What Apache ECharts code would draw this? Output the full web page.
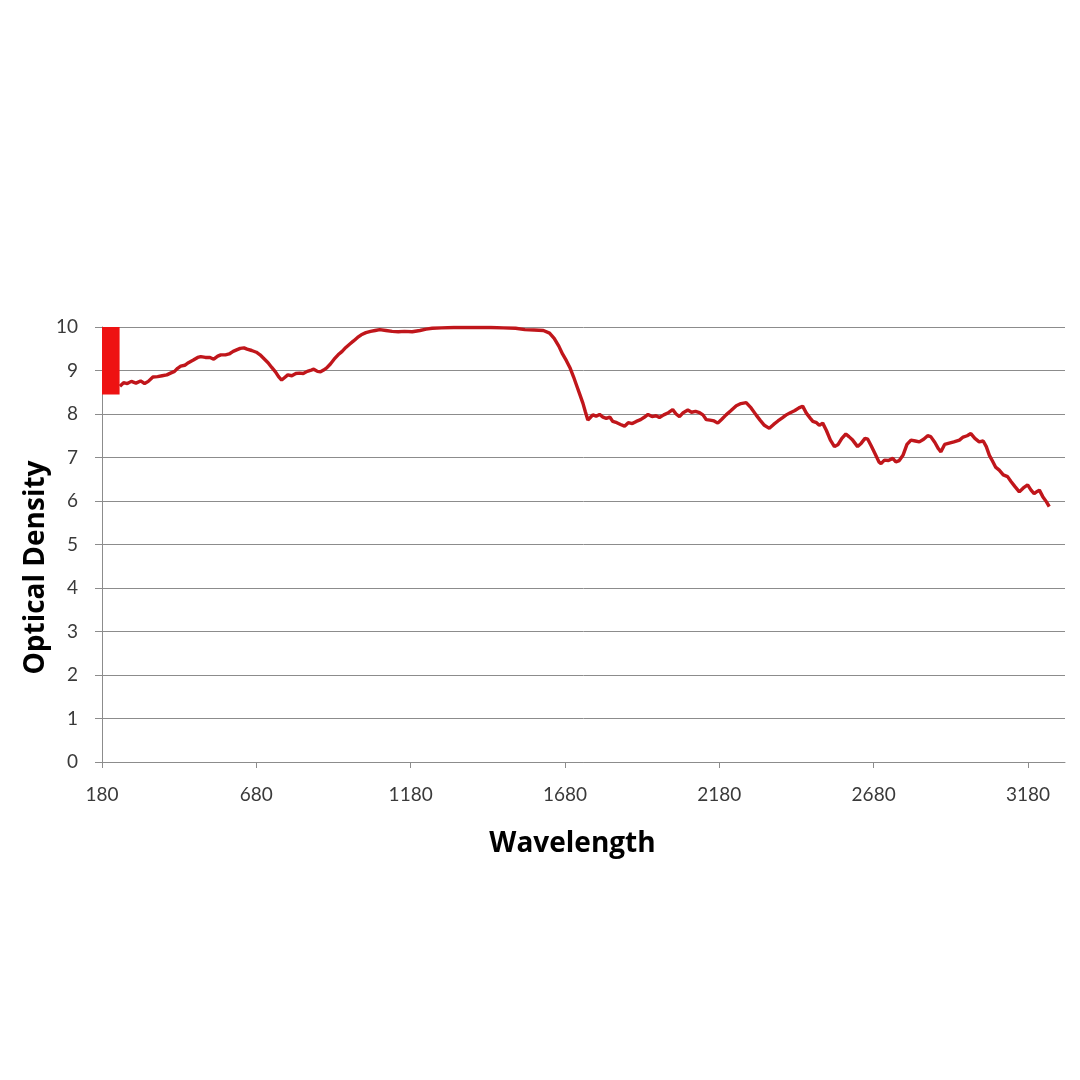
<!DOCTYPE html>
<html><head><meta charset="utf-8">
<script src="https://cdn.jsdelivr.net/npm/echarts@6/dist/echarts.min.js"></script>
<style>html,body{margin:0;padding:0;background:#fff}#c{width:1080px;height:1080px}</style>
</head><body><div id="c"></div>
<script>
const wavelength = [238,250,262,275,290,305,318,330,345,360,375,390,402,415,425,435,448,460,476,490,500,515,530,542,555,565,580,592,605,618,628,640,650,665,680,692,705,718,730,742,752,762,772,782,795,808,820,832,845,858,866,878,888,898,908,920,932,945,958,970,983,995,1008,1020,1035,1050,1065,1080,1100,1120,1140,1160,1185,1210,1230,1250,1280,1320,1360,1400,1440,1480,1520,1550,1580,1610,1630,1645,1660,1672,1685,1697,1708,1718,1728,1738,1746,1754,1762,1770,1781,1792,1803,1814,1825,1835,1848,1860,1873,1885,1898,1911,1925,1938,1949,1962,1975,1986,2000,2015,2029,2040,2051,2063,2078,2090,2103,2116,2127,2138,2150,2163,2175,2188,2202,2218,2235,2250,2267,2283,2299,2312,2326,2342,2356,2370,2384,2397,2410,2425,2438,2450,2462,2475,2483,2495,2504,2515,2527,2540,2553,2565,2577,2590,2600,2612,2628,2640,2652,2661,2672,2685,2697,2704,2715,2728,2742,2752,2763,2775,2788,2801,2815,2828,2842,2855,2865,2878,2890,2898,2910,2925,2940,2958,2970,2983,2995,3008,3022,3035,3045,3055,3065,3075,3087,3100,3114,3125,3138,3152,3165,3179,3190,3200,3210,3217,3228,3240,3249];
const density = [8.64,8.72,8.70,8.75,8.71,8.76,8.70,8.75,8.85,8.86,8.88,8.90,8.94,8.98,9.05,9.10,9.12,9.18,9.24,9.30,9.32,9.30,9.30,9.26,9.33,9.36,9.36,9.38,9.44,9.48,9.51,9.52,9.49,9.46,9.42,9.36,9.27,9.18,9.07,8.97,8.86,8.78,8.84,8.90,8.88,8.93,8.94,8.93,8.98,9.01,9.03,8.98,8.97,9.01,9.06,9.15,9.26,9.36,9.44,9.53,9.61,9.68,9.76,9.82,9.87,9.90,9.92,9.94,9.92,9.90,9.89,9.90,9.89,9.92,9.95,9.97,9.98,9.99,9.99,9.99,9.99,9.98,9.97,9.94,9.93,9.92,9.86,9.74,9.56,9.38,9.22,9.05,8.85,8.65,8.45,8.25,8.05,7.86,7.92,7.98,7.95,7.99,7.93,7.90,7.93,7.83,7.80,7.76,7.72,7.80,7.78,7.83,7.87,7.93,7.99,7.94,7.96,7.92,7.98,8.03,8.10,8.00,7.94,8.03,8.09,8.04,8.06,8.03,7.98,7.87,7.86,7.84,7.79,7.88,7.98,8.08,8.19,8.24,8.26,8.14,7.98,7.86,7.74,7.67,7.76,7.84,7.91,7.98,8.03,8.08,8.14,8.18,8.02,7.90,7.83,7.80,7.74,7.79,7.62,7.40,7.25,7.30,7.44,7.54,7.48,7.40,7.25,7.33,7.44,7.42,7.27,7.08,6.90,6.86,6.94,6.93,6.98,6.90,6.93,7.05,7.30,7.40,7.38,7.36,7.42,7.50,7.48,7.35,7.20,7.13,7.30,7.33,7.36,7.40,7.47,7.50,7.55,7.44,7.36,7.38,7.25,7.05,6.92,6.78,6.71,6.60,6.56,6.45,6.33,6.21,6.30,6.37,6.25,6.17,6.22,6.25,6.10,5.98,5.87];
const xTickLabels = [180,680,1180,1680,2180,2680,3180];
const bandX = [180,237];
const bandY = [8.45,10];

const chart = echarts.init(document.getElementById('c'));
const lblFont = {fontFamily:'Lato', fontSize:19, color:'#3a3a3a'};
chart.setOption({
  animation:false,
  backgroundColor:'#fff',
  grid:{left:102,right:15,top:327,bottom:318,containLabel:false},
  xAxis:{type:'value',min:180,max:3300,
    name:'Wavelength',nameLocation:'middle',nameGap:68,nameMoveOverlap:false,
    nameTextStyle:{fontFamily:'Open Sans',fontWeight:'bold',fontSize:28,color:'#000',padding:[0,22,0,0]},
    axisLine:{lineStyle:{color:'#8c8c8c',width:1}},
    axisTick:{show:true,customValues:xTickLabels,length:6,lineStyle:{color:'#8c8c8c'}},
    axisLabel:Object.assign({customValues:xTickLabels,margin:23,formatter:v=>String(v)},lblFont),
    splitLine:{show:false}},
  yAxis:{type:'value',min:0,max:10,interval:1,
    name:'Optical Density',nameLocation:'middle',nameGap:52,nameRotate:90,nameMoveOverlap:false,
    nameTextStyle:{fontFamily:'Open Sans',fontWeight:'bold',fontSize:28,color:'#000',padding:[0,46,0,0]},
    axisLine:{show:true,lineStyle:{color:'#8c8c8c',width:1}},
    axisTick:{show:true,length:7,lineStyle:{color:'#8c8c8c'}},
    axisLabel:Object.assign({margin:24},lblFont),
    splitLine:{lineStyle:{color:'#8c8c8c',width:1}}},
  series:[{type:'line',showSymbol:false,
    data:wavelength.map((w,i)=>[w,density[i]]),
    lineStyle:{color:'#c0161b',width:3.4},
    itemStyle:{color:'#c0161b'},
    markArea:{silent:true,itemStyle:{color:'#ee1212',opacity:1},
      data:[[{coord:[bandX[0],bandY[0]]},{coord:[bandX[1],bandY[1]]}]]}
  }]
});
</script></body></html>
